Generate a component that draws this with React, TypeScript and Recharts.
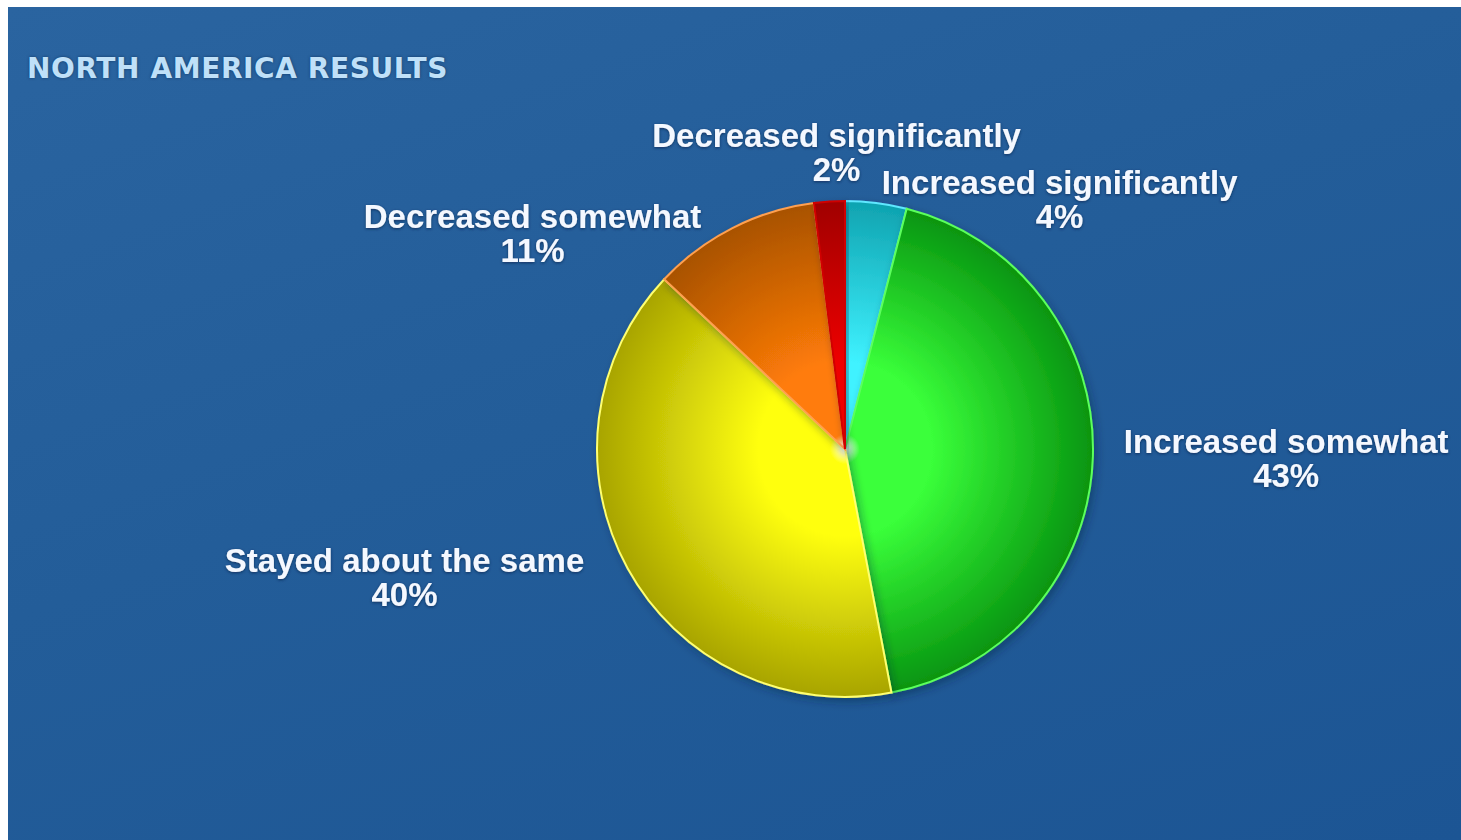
import { PieChart, Pie, Cell } from 'recharts'

const W = 1453
const H = 833
const CX = 837
const CY = 442
const R = 248

const categories = [
  'Increased significantly',
  'Increased somewhat',
  'Stayed about the same',
  'Decreased somewhat',
  'Decreased significantly',
]
const shares = [4, 43, 40, 11, 2]
const data = categories.map((name, i) => ({ name, value: shares[i] }))

// inner / outer gradient stop and rim colour for each slice
const SLICES = [
  { id: 'cyan', inner: '#3ff2ff', outer: '#0fa3b0', rim: '#5fe8ff' },
  { id: 'green', inner: '#3aff3a', outer: '#079410', rim: '#5cff5c' },
  { id: 'yellow', inner: '#ffff10', outer: '#a8a400', rim: '#ffff70' },
  { id: 'orange', inner: '#ff7c08', outer: '#a85200', rim: '#ffa050' },
  { id: 'red', inner: '#ee0000', outer: '#a00000', rim: '#d00000' },
]

const LABEL_FONT = 'bold 33px "Liberation Sans", Arial, sans-serif'
const LINE_GAP = 34

let ctx: CanvasRenderingContext2D | null = null
const measure = (t: string) => {
  if (!ctx) ctx = document.createElement('canvas').getContext('2d')
  if (!ctx) return t.length * 17
  ctx.font = LABEL_FONT
  return ctx.measureText(t).width
}

const RAD = Math.PI / 180

const renderLabel = (props: any) => {
  const { cx, cy, midAngle, outerRadius, name, value } = props
  const c = Math.cos(midAngle * RAD)
  const s = Math.sin(midAngle * RAD)
  const px = cx + (outerRadius + 29) * c
  const py = cy - (outerRadius + 29) * s
  const pct = `${value}%`
  const w = Math.max(measure(name), measure(pct))
  const h = LINE_GAP * 2

  let mid: number
  let centerY: number
  if (c > 0.1) {
    mid = px + 2 + w / 2
    centerY = py + 2 + 24 * s
  } else if (c < -0.1) {
    mid = px - 18 - w / 2
    centerY = py + 8 + 26 * s
  } else {
    mid = px + 9
    centerY = py + 14 - h / 2
  }

  return (
    <g filter="url(#txtShadow)">
      <text
        x={mid}
        y={centerY - LINE_GAP / 2}
        textAnchor="middle"
        dominantBaseline="central"
        fill="#f4f8ff"
        style={{ font: LABEL_FONT }}
      >
        {name}
      </text>
      <text
        x={mid}
        y={centerY + LINE_GAP / 2}
        textAnchor="middle"
        dominantBaseline="central"
        fill="#f4f8ff"
        style={{ font: LABEL_FONT }}
      >
        {pct}
      </text>
    </g>
  )
}

export default function App() {
  return (
    <>
      <style>{'html,body{margin:0;overflow:hidden}'}</style>
      <div
        style={{
          position: 'absolute',
          left: 8,
          top: 7,
          width: W,
          height: H,
          overflow: 'hidden',
          background:
            'linear-gradient(160deg, #2a64a0 0%, #235d99 45%, #1c5594 100%)',
        }}
      >
        <div
          style={{
            position: 'absolute',
            left: 19,
            top: 45,
            font: 'bold 28px "DejaVu Sans", Verdana, sans-serif',
            color: '#bfe0f8',
            letterSpacing: 0.6,
            textShadow: '0 0 3px rgba(10,40,80,0.7)',
          }}
        >
          NORTH AMERICA RESULTS
        </div>
        <PieChart width={W} height={H} margin={{ top: 0, right: 0, bottom: 0, left: 0 }}>
          <defs>
            {SLICES.map((sl) => (
              <radialGradient
                key={sl.id}
                id={`g-${sl.id}`}
                gradientUnits="userSpaceOnUse"
                cx={CX}
                cy={CY}
                r={R}
              >
                <stop offset="0%" stopColor="#ffffff" />
                <stop offset="6%" stopColor={sl.inner} />
                <stop offset="35%" stopColor={sl.inner} />
                <stop offset="100%" stopColor={sl.outer} />
              </radialGradient>
            ))}
            <filter id="txtShadow" x="-10%" y="-30%" width="120%" height="160%">
              <feDropShadow dx="0" dy="1" stdDeviation="1.6" floodColor="#0a2850" floodOpacity="0.8" />
            </filter>
            <filter id="pieShadow" x="-10%" y="-10%" width="120%" height="120%">
              <feDropShadow dx="3" dy="4" stdDeviation="4" floodColor="#0a2040" floodOpacity="0.4" />
            </filter>
          </defs>
          <Pie
            data={data}
            dataKey="value"
            nameKey="name"
            cx={CX}
            cy={CY}
            outerRadius={R}
            startAngle={90}
            endAngle={-270}
            label={renderLabel}
            labelLine={false}
            isAnimationActive={false}
            style={{ filter: 'url(#pieShadow)' }}
          >
            {data.map((_, i) => (
              <Cell
                key={i}
                fill={`url(#g-${SLICES[i].id})`}
                stroke={SLICES[i].rim}
                strokeWidth={2}
              />
            ))}
          </Pie>
        </PieChart>
      </div>
    </>
  )
}
